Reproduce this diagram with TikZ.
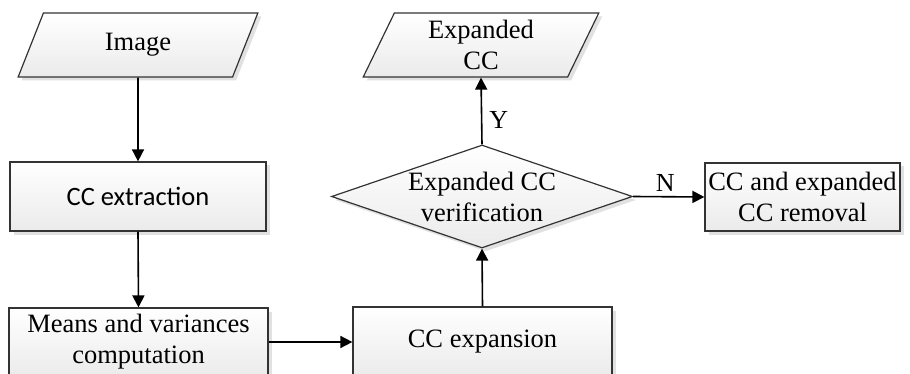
\documentclass[tikz,border=0pt]{standalone}
\usepackage{fontspec}
\setmainfont{Liberation Serif}
\newfontfamily\calfont{Carlito}
\usetikzlibrary{shapes.geometric,arrows.meta,shadows}
\begin{document}
\begin{tikzpicture}[x=1pt,y=-1pt,
  base/.style={draw=black!80, line width=1.2pt, top color=white, bottom color=gray!16,
    drop shadow={shadow xshift=3.5pt, shadow yshift=-3.5pt, fill=gray!30, opacity=0.8},
    font=\fontsize{26.5}{31}\selectfont, align=center, inner sep=0pt},
  procbox/.style={base, rectangle},
  iobox/.style={base, trapezium, trapezium left angle=69, trapezium right angle=111,
    trapezium stretches=true, minimum height=64pt},
  decbox/.style={base, diamond, minimum width=301pt, minimum height=103pt},
  txt/.style={font=\fontsize{26.5}{31}\selectfont, align=center, inner sep=0pt},
  conn/.style={line width=1.6pt, -{Triangle[length=12pt,width=12pt]}},
  lbl/.style={font=\fontsize{26}{30}\selectfont, inner sep=0pt}
]
\useasboundingbox (0,0) rectangle (910,374);
\clip (0,0) rectangle (910,374);

\node[iobox, minimum width=240pt] (img) at (138,45) {Image};
\node[procbox, minimum width=256pt, minimum height=69pt, font=\calfont\fontsize{26.5}{31}\selectfont] (ext) at (138,196.5) {CC extraction};
\node[procbox, minimum width=259pt, minimum height=70pt] (mv) at (138.5,343) {};
\node[txt] (mvt) at (138.5,342) {Means and variances\\computation};
\node[procbox, minimum width=259pt, minimum height=70pt] (exp) at (482.5,342) {};
\node[txt] (expt) at (482.5,342) {CC expansion};
\node[decbox] (dia) at (482,196.5) {};
\node[txt] (diat) at (482,197) {Expanded CC\\verification};
\node[iobox, minimum width=236pt] (out) at (481,45) {Expanded\\CC};
\node[procbox, minimum width=195pt, minimum height=68pt] (rem) at (802.5,197) {CC and expanded\\CC removal};

\draw[conn] (img.south) -- (ext.north);
\draw[conn] (ext.south) -- (mv.north);
\draw[conn] (mv.east |- exp.west) -- (exp.west);
\draw[conn] (exp.north) -- (dia.south);
\draw[conn] (dia.north) -- node[lbl, pos=0.37, right=7pt] (y) {Y} (out.south);
\draw[conn] (dia.east) -- node[lbl, pos=0.45, above=4pt] (n) {N} (rem.west);
\end{tikzpicture}
\end{document}
